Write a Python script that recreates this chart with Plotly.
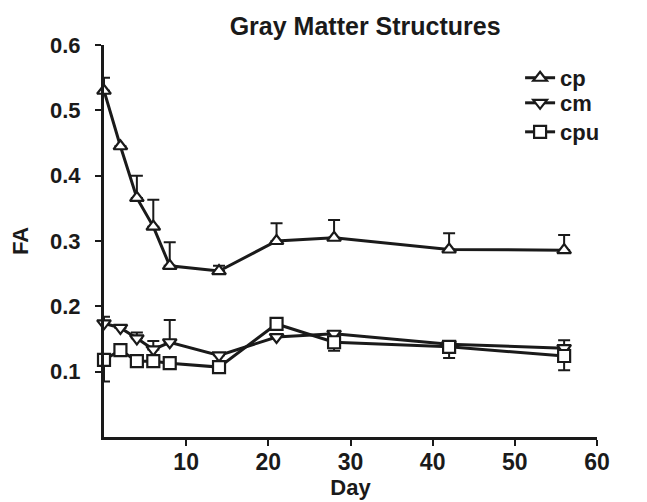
import plotly.graph_objects as go

days = [0, 2, 4, 6, 8, 14, 21, 28, 42, 56]
cp = [0.530, 0.445, 0.366, 0.322, 0.262, 0.254, 0.300, 0.305, 0.287, 0.286]
cp_err_up = [0.020, 0.0, 0.034, 0.041, 0.036, 0.008, 0.027, 0.027, 0.025, 0.023]
cm = [0.174, 0.167, 0.151, 0.134, 0.145, 0.125, 0.153, 0.158, 0.142, 0.136]
cm_err_up = [0.010, 0.0, 0.009, 0.013, 0.034, 0.0, 0.0, 0.0, 0.0, 0.012]
cpu = [0.118, 0.133, 0.116, 0.116, 0.113, 0.107, 0.173, 0.145, 0.138, 0.124]
cpu_err_down = [0.033, 0.0, 0.0, 0.0, 0.0, 0.0, 0.0, 0.013, 0.017, 0.022]

x_ticks = [10, 20, 30, 40, 50, 60]
y_ticks = [0.1, 0.2, 0.3, 0.4, 0.5, 0.6]

FONT = "Liberation Sans, Arial, sans-serif"
BLACK = "#1a1a1a"

def series(name, y, up, down, symbol, legend):
    zeros = [0.0] * len(y)
    return go.Scatter(
        x=days, y=y, name=name, mode="lines+markers", legend=legend,
        line=dict(color=BLACK, width=3),
        marker=dict(symbol=symbol, size=12, color="white",
                    line=dict(color=BLACK, width=2.2)),
        error_y=dict(type="data", symmetric=False,
                     array=up if up else zeros,
                     arrayminus=down if down else zeros,
                     color=BLACK, thickness=2, width=6),
        cliponaxis=False,
    )

fig = go.Figure()
fig.add_trace(series("cp", cp, cp_err_up, None, "triangle-up", "legend"))
fig.add_trace(series("cm", cm, cm_err_up, None, "triangle-down", "legend2"))
fig.add_trace(series("cpu", cpu, None, cpu_err_down, "square", "legend3"))

def leg(y):
    return dict(x=0.844, y=y, xanchor="left", yanchor="middle",
                bgcolor="rgba(0,0,0,0)",
                font=dict(size=22, family=FONT, weight="bold", color=BLACK),
                itemwidth=30)

fig.update_layout(
    width=647, height=502,
    margin=dict(l=96, r=58, t=37, b=73),
    paper_bgcolor="white", plot_bgcolor="white",
    font=dict(family=FONT, color=BLACK, size=22),
    title=dict(text="<b>Gray Matter Structures</b>", x=0.552, xanchor="center",
               xref="container", yref="container",
               y=0.964, yanchor="middle", font=dict(size=25, family=FONT, color=BLACK)),
    showlegend=True,
    legend=leg(0.916),
    legend2=leg(0.852),
    legend3=leg(0.778),
)
fig.update_xaxes(
    range=[0, 60], tickvals=x_ticks, ticks="outside", ticklen=6, tickwidth=2,
    tickcolor=BLACK, showline=True, linecolor=BLACK, linewidth=3,
    showgrid=False, zeroline=False, ticklabelstandoff=-4,
    tickfont=dict(size=23, family=FONT, weight="bold"),
    title=dict(text="<b>Day</b>", font=dict(size=22, family=FONT), standoff=0),
)
fig.update_yaxes(
    range=[0, 0.6], tickvals=y_ticks, tickformat=".1f", ticks="outside", ticklen=6,
    tickwidth=2, tickcolor=BLACK, showline=True, linecolor=BLACK, linewidth=3,
    showgrid=False, zeroline=False, ticklabelstandoff=10,
    tickfont=dict(size=22, family=FONT, weight="bold"),
    title=dict(text="<b>FA</b>", font=dict(size=22, family=FONT), standoff=16),
)

fig.write_html("out.html")
